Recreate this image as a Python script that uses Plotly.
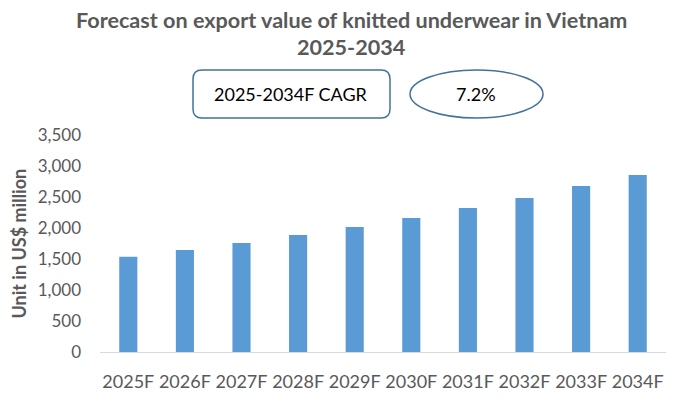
import plotly.graph_objects as go

years = ["2025F", "2026F", "2027F", "2028F", "2029F",
         "2030F", "2031F", "2032F", "2033F", "2034F"]
export_value = [1537, 1645, 1758, 1887, 2016, 2161, 2323, 2484, 2677, 2855]
cagr_label = "2025-2034F CAGR"
cagr_value = "7.2%"

# page body has an 8px margin, so work in reference pixels minus 8
OFF = 8
W, H = 681 - OFF, 410 - OFF
L, R, T, B = 100 - OFF, 15, 135 - OFF, 58
pw, ph = W - L - R, H - T - B

def px(x):
    return (x - OFF - L) / pw

def py(y):
    return (H - B - (y - OFF)) / ph

def rounded_rect(x0, y0, x1, y1, r):
    # reference pixel coords -> paper path with rounded corners
    rx, ry = r / pw, r / ph
    a, b, c, d = px(x0), py(y1), px(x1), py(y0)  # left, bottom, right, top
    return (f"M {a+rx},{d} L {c-rx},{d} Q {c},{d} {c},{d-ry} "
            f"L {c},{b+ry} Q {c},{b} {c-rx},{b} L {a+rx},{b} "
            f"Q {a},{b} {a},{b+ry} L {a},{d-ry} Q {a},{d} {a+rx},{d} Z")

grey = "#595959"
font = "Lato"

fig = go.Figure()
fig.add_trace(go.Bar(x=years, y=export_value, marker_color="#5B9BD5",
                     marker_line_width=0))

fig.update_layout(
    width=W, height=H,
    margin=dict(l=L, r=R, t=T, b=B),
    paper_bgcolor="white", plot_bgcolor="white",
    bargap=0.68, showlegend=False,
    font=dict(family=font, color=grey),
)
fig.update_xaxes(showline=True, linecolor="#D9D9D9", linewidth=1,
                 showgrid=False, ticks="", tickfont=dict(size=18, color=grey),
                 ticklabelstandoff=13)
fig.update_yaxes(range=[0, 3500], dtick=500, tickformat=",", showgrid=False,
                 zeroline=False, showline=False, ticks="",
                 tickfont=dict(size=17, color=grey), ticklabelstandoff=18)

title_lines = ["Forecast on export value of knitted underwear in Vietnam", "2025-2034"]
for txt, yy in zip(title_lines, [20, 47]):
    fig.add_annotation(text=f"<b>{txt}</b>", xref="paper", yref="paper",
                       x=px(351), y=py(yy), xanchor="center", yanchor="middle",
                       showarrow=False, font=dict(size=21.6, color=grey))

fig.add_annotation(text="<b>Unit in US$ million</b>", textangle=-90,
                   xref="paper", yref="paper", x=px(18), y=0.5,
                   xanchor="center", yanchor="middle",
                   showarrow=False, font=dict(size=18, color=grey))

fig.add_shape(type="path", xref="paper", yref="paper",
              path=rounded_rect(193, 70, 390, 118, 9),
              line=dict(color="#41719C", width=1.5), fillcolor="white")
fig.add_shape(type="circle", xref="paper", yref="paper",
              x0=px(410), x1=px(543), y0=py(118), y1=py(70),
              line=dict(color="#41719C", width=1.5), fillcolor="white")
fig.add_annotation(text=cagr_label, xref="paper", yref="paper",
                   x=px(291), y=py(94), xanchor="center", yanchor="middle",
                   showarrow=False, font=dict(size=18, color="black"))
fig.add_annotation(text=cagr_value, xref="paper", yref="paper",
                   x=px(476), y=py(94), xanchor="center", yanchor="middle",
                   showarrow=False, font=dict(size=18, color="black"))

fig.write_html("out.html")
